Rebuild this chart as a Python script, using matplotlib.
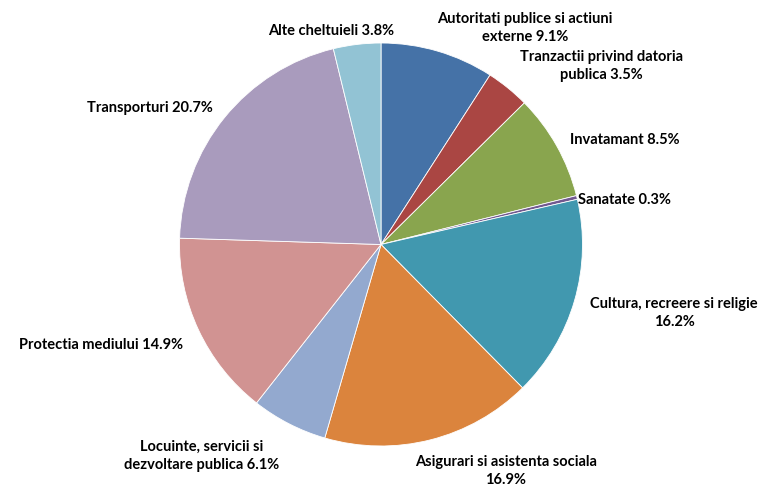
import matplotlib.pyplot as plt

# Budget shares (%)
categories = [
    "Autoritati publice si actiuni\nexterne",
    "Tranzactii privind datoria\npublica",
    "Invatamant",
    "Sanatate",
    "Cultura, recreere si religie\n",
    "Asigurari si asistenta sociala\n",
    "Locuinte, servicii si\ndezvoltare publica",
    "Protectia mediului",
    "Transporturi",
    "Alte cheltuieli",
]
values = [9.1, 3.5, 8.5, 0.3, 16.2, 16.9, 6.1, 14.9, 20.7, 3.8]
colors = ["#4572A7", "#AA4643", "#89A54E", "#71588F", "#4198AF",
          "#DB843D", "#93A9CF", "#D19392", "#A99BBD", "#92C3D4"]

# label centres in pixels (x, y from top)
label_pos = [(525, 28), (601, 66), (625, 140), (624, 200), (674, 313),
             (506, 471), (202, 456), (101, 345), (150, 108), (331, 31)]

W, H = 760, 487
fig = plt.figure(figsize=(W / 100, H / 100), dpi=100)

cx, cy, r = 381, 244.5, 201.5
ax = fig.add_axes([(cx - r) / W, (H - cy - r) / H, 2 * r / W, 2 * r / H])
ax.pie(values, colors=colors, startangle=90, counterclock=False,
       wedgeprops=dict(edgecolor="white", linewidth=0.6))
ax.set_xlim(-1, 1)
ax.set_ylim(-1, 1)
ax.set_aspect("equal")
ax.axis("off")

for cat, v, (px, py) in zip(categories, values, label_pos):
    if cat.endswith("\n"):
        txt = f"{cat}{v:.1f}%"
    else:
        txt = f"{cat} {v:.1f}%"
    fig.text(px / W, 1 - py / H, txt, ha="center", va="center",
             fontsize=10.5, fontweight="bold", family="Lato",
             linespacing=1.45, color="black")

fig.savefig("out.png", dpi=100, facecolor="white")
